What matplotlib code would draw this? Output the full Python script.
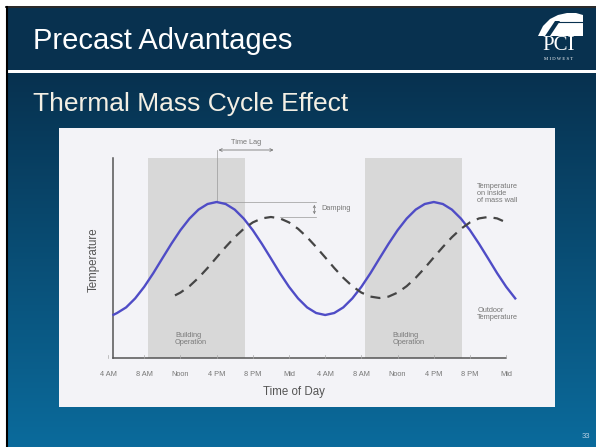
import numpy as np
import matplotlib
matplotlib.use("Agg")
import matplotlib.pyplot as plt
from matplotlib.patches import Rectangle, Polygon

plt.rcParams['font.family'] = ['Liberation Sans', 'DejaVu Sans']

# ---- data (hours since midnight of day 1, temperature in arbitrary units)
blue_hours = [4.6, 5, 6, 7, 8, 9, 10, 11, 12, 13, 14, 15, 16, 17, 18, 19, 20, 21, 22, 23, 24,
              25, 26, 27, 28, 29, 30, 31, 32, 33, 34, 35, 36, 37, 38, 39, 40, 41, 42, 43,
              44, 45, 46, 47, 48, 49]
blue_temp = [21.6, 22.5, 25.3, 29.8, 35.6, 42.4, 49.8, 57.1, 63.9, 69.7, 74.2, 77.0, 78.0, 77.0,
             74.2, 69.7, 63.9, 57.1, 49.8, 42.4, 35.6, 29.8, 25.3, 22.5, 21.5, 22.5, 25.3, 29.8,
             35.6, 42.4, 49.8, 57.1, 63.9, 69.7, 74.2, 77.0, 78.0, 77.0, 74.2, 69.7, 63.9, 57.1,
             49.8, 42.4, 35.6, 29.8]

wall_hours = [11.4, 12, 13, 14, 15, 16, 17, 18, 19, 20, 21, 22, 23, 24, 25, 26, 27, 28, 29, 30,
              31, 32, 33, 34, 35, 36, 37, 38, 39, 40, 41, 42, 43, 44, 45, 46, 47, 47.9]
wall_temp = [31.3, 32.7, 35.9, 40.1, 45.0, 50.3, 55.5, 60.4, 64.6, 67.8, 69.8, 70.5, 69.8, 67.8,
             64.6, 60.4, 55.5, 50.3, 45.0, 40.1, 35.9, 32.7, 30.7, 30.0, 30.7, 32.7, 35.9, 40.1,
             45.0, 50.3, 55.5, 60.4, 64.6, 67.8, 69.8, 70.5, 69.8, 68.0]

operation_spans = [(8.4, 19.1), (32.4, 43.1)]
tick_hours = [4, 8, 12, 16, 20, 24, 28, 32, 36, 40, 44, 48]
tick_labels = ['4 AM', '8 AM', 'Noon', '4 PM', '8 PM', 'Mid',
               '4 AM', '8 AM', 'Noon', '4 PM', '8 PM', 'Mid']

W, H = 596, 447
fig = plt.figure(figsize=(W / 100, H / 100), dpi=100)
fig.patch.set_facecolor('white')

# ---- slide background (pixel coordinates)
bg = fig.add_axes([0, 0, 1, 1])
bg.set_xlim(0, W)
bg.set_ylim(H, 0)
bg.axis('off')

grad = np.linspace(0, 1, 256).reshape(-1, 1)
c0 = np.array([0x07, 0x31, 0x4f]) / 255
c1 = np.array([0x0b, 0x6b, 0x9c]) / 255
img = c0 + (c1 - c0) * grad[..., None]
img = np.repeat(img, 2, axis=1)
bg.imshow(img, extent=(7, W, H, 72), aspect='auto', zorder=0)
bg.add_patch(Rectangle((7, 8), W - 7, 61.5, facecolor='#08314f', edgecolor='none', zorder=1))
bg.add_patch(Rectangle((7, 69.5), W - 7, 3, facecolor='white', edgecolor='none', zorder=2))
bg.plot([6.5, 6.5], [7, H], color='black', lw=1.5, zorder=3)
bg.plot([6, W], [7.2, 7.2], color='black', lw=1.2, zorder=3)

bg.text(33, 41, 'Precast Advantages', color='white', fontsize=21, va='center', ha='left', zorder=4)
bg.text(33, 104, 'Thermal Mass Cycle Effect', color='#f3efe4', fontsize=19, va='center', ha='left', zorder=4)
bg.text(590, 437, '33', color='#b5cfe4', fontsize=5.5, ha='right', va='center', zorder=4)

# PCI logo
bg.add_patch(Polygon([(538, 36), (543, 26), (550, 19), (558, 15), (567, 13), (576, 13), (583, 15),
                      (583, 36)], closed=True, facecolor='white', edgecolor='none', zorder=4))
bg.add_patch(Polygon([(545, 36), (555, 21), (560, 21), (550, 36)], closed=True,
                     facecolor='#08314f', edgecolor='none', zorder=5))
bg.plot([557, 583], [21.5, 21.5], color='#08314f', lw=0.8, zorder=5)
bg.text(558.5, 46, 'PCI', color='white', fontsize=15, family='Liberation Serif',
        ha='center', va='center', zorder=5)
bg.text(558.5, 59.5, 'M I D W E S T', color='white', fontsize=3.4, family='Liberation Serif',
        ha='center', va='center', zorder=5)

# chart picture box
bg.add_patch(Rectangle((59, 128), 496, 279, facecolor='#f3f3f7', edgecolor='none', zorder=2))

# ---- chart axes
x0, x1, y0, y1 = 113, 506, 158, 358
ax = fig.add_axes([x0 / W, 1 - y1 / H, (x1 - x0) / W, (y1 - y0) / H])
ax.set_facecolor('none')
ax.set_xlim(4.55, 47.98)
ax.set_ylim(0, 100)
for s in ['top', 'right']:
    ax.spines[s].set_visible(False)
for s in ['left', 'bottom']:
    ax.spines[s].set_color('#555555')
    ax.spines[s].set_linewidth(1.1)
ax.set_xticks([])
ax.set_yticks([])

small = 5.3
for a, b in operation_spans:
    ax.axvspan(a, b, color='#d8d8d8', lw=0, zorder=1)
    ax.text(a + 3.0, 9.5, 'Building\nOperation', fontsize=small, color='#7a7a7a',
            ha='left', va='center', linespacing=0.95, zorder=3)

ax.plot(blue_hours, blue_temp, color='#4f4cc6', lw=1.7, clip_on=False, zorder=4,
        solid_joinstyle='round')
ax.plot(wall_hours, wall_temp, color='#454545', lw=1.6, dashes=(4.5, 3.2), zorder=4)

for h, lbl in zip(tick_hours, tick_labels):
    ax.text(h, -8, lbl, fontsize=small, color='#777777', ha='center', va='center', clip_on=False)
    ax.plot([h, h], [0, 1.5], color='#aaaaaa', lw=0.5, clip_on=False, zorder=3)

ax.text(24.5, -17, 'Time of Day', fontsize=8.3, color='#555555', ha='center', va='center')
ax.text(2.4, 49, 'Temperature', fontsize=8.3, color='#555555', ha='center', va='center', rotation=90)

# time lag
ax.annotate('', xy=(22.6, 104), xytext=(15.9, 104), annotation_clip=False,
            arrowprops=dict(arrowstyle='<->', lw=0.6, color='#777777', mutation_scale=5))
ax.plot([16, 16], [78, 104], color='#999999', lw=0.5, clip_on=False, zorder=3)
ax.text(19.3, 107.5, 'Time Lag', fontsize=small, color='#777777', ha='center', va='center')

# damping
ax.plot([16, 27], [78, 78], color='#999999', lw=0.5, zorder=3)
ax.plot([23, 27], [70.5, 70.5], color='#999999', lw=0.5, zorder=3)
ax.annotate('', xy=(26.8, 78), xytext=(26.8, 70.5),
            arrowprops=dict(arrowstyle='<->', lw=0.5, color='#777777', mutation_scale=4))
ax.text(27.6, 74.5, 'Damping', fontsize=small, color='#777777', ha='left', va='center')

ax.text(44.8, 87.5, 'Temperature\non inside\nof mass wall', fontsize=small, color='#777777',
        ha='left', va='top', linespacing=0.95, clip_on=False)
ax.text(44.8, 25.5, 'Outdoor\nTemperature', fontsize=small, color='#777777',
        ha='left', va='top', linespacing=0.95, clip_on=False)

fig.savefig('out.png', dpi=100)
